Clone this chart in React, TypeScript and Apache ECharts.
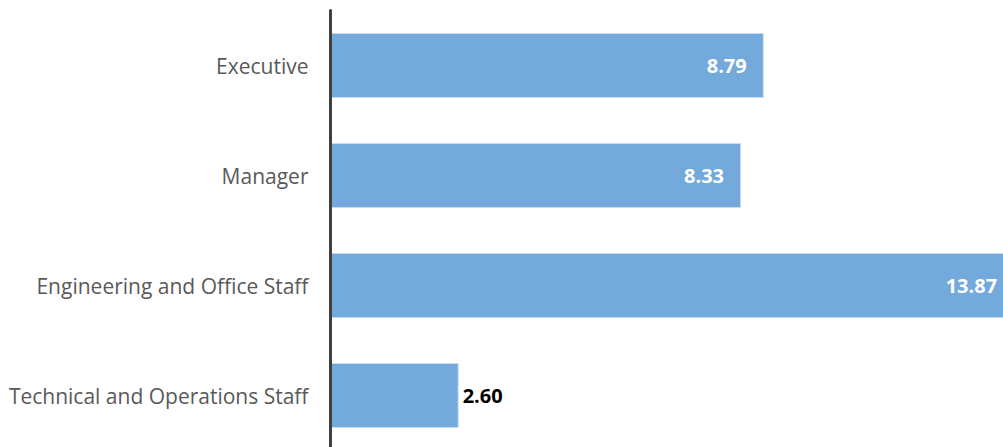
import React, { useEffect, useRef } from "react";
import * as echarts from "echarts";

const categories = [
  "Executive",
  "Manager",
  "Engineering and Office Staff",
  "Technical and Operations Staff",
];
const values = [8.79, 8.33, 13.87, 2.6];
const insideLabel = [true, true, true, false];

export default function App() {
  const ref = useRef<HTMLDivElement>(null);
  useEffect(() => {
    document.body.style.margin = "0";
    const chart = echarts.init(ref.current!, undefined, { renderer: "svg" });
    chart.setOption({
      animation: false,
      grid: { left: 330.5, right: 0.5, top: 10.5, bottom: 0.5, containLabel: false },
      xAxis: {
        type: "value",
        min: 0,
        max: 14,
        show: false,
      },
      yAxis: {
        type: "category",
        inverse: true,
        data: categories,
        z: 5,
        axisLine: { show: true, lineStyle: { color: "#404040", width: 3 } },
        axisTick: { show: false },
        axisLabel: {
          color: "#595959",
          fontFamily: "Open Sans",
          fontSize: 21,
          margin: 22,
        },
        splitLine: { show: false },
      },
      series: [
        {
          type: "bar",
          barWidth: 65,
          data: values.map((v, i) => ({
            value: v,
            label: insideLabel[i]
              ? {
                  show: true,
                  position: "insideRight",
                  distance: 17,
                  color: "#ffffff",
                }
              : {
                  show: true,
                  position: "right",
                  distance: 4,
                  color: "#000000",
                },
          })),
          itemStyle: {
            color: "#74A9DB",
            borderColor: "#C5DCF2",
            borderWidth: 1,
          },
          label: {
            show: true,
            fontFamily: "Open Sans",
            fontWeight: "bold",
            fontSize: 20,
            formatter: (p: any) => Number(p.value).toFixed(2),
          },
        },
      ],
    });
    return () => chart.dispose();
  }, []);
  return (
    <div style={{ width: 1003, height: 447, overflow: "hidden", position: "relative" }}>
      <div ref={ref} style={{ width: 1021, height: 451 }} />
    </div>
  );
}
